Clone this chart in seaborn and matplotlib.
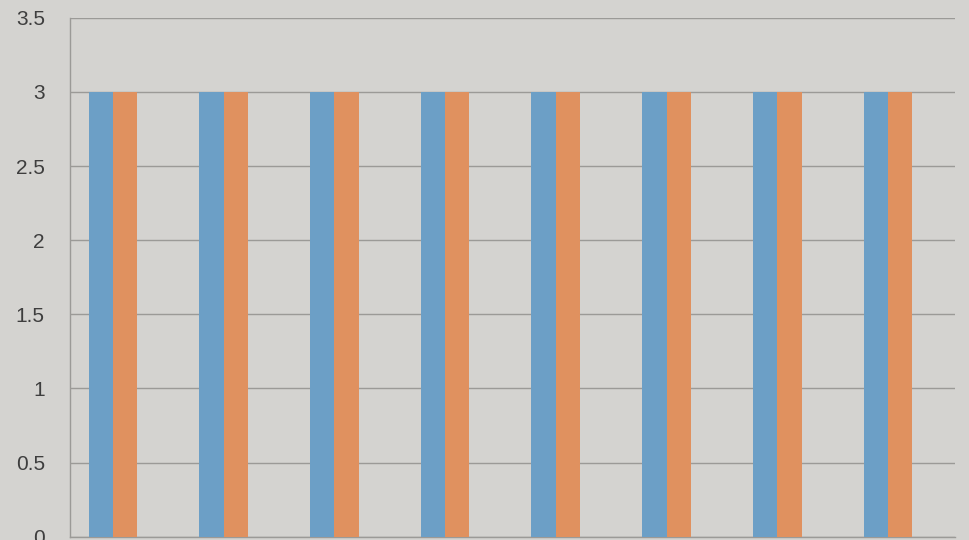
import pandas as pd
import matplotlib
matplotlib.use('Agg')
import matplotlib.pyplot as plt
import seaborn as sns

# values (8 groups; two visible series at ~3,
# plus an empty third series that leaves the gap on the right of each group)
categories = ['1', '2', '3', '4', '5', '6', '7', '8']
series_a = [3, 3, 3, 3, 3, 3, 3, 3]
series_b = [3, 3, 3, 3, 3, 3, 3, 3]
series_c = [0, 0, 0, 0, 0, 0, 0, 0]
yticks = [0, 0.5, 1, 1.5, 2, 2.5, 3, 3.5]
ytick_labels = ['0', '0.5', '1', '1.5', '2', '2.5', '3', '3.5']

df = pd.DataFrame({
    'category': categories * 3,
    'value': series_a + series_b + series_c,
    'series': ['A'] * 8 + ['B'] * 8 + ['C'] * 8,
})

bg = '#d4d3d0'
grid_col = '#9b9a97'
sns.set_theme(style='white')
plt.rcParams['font.family'] = ['Liberation Sans', 'DejaVu Sans']

fig = plt.figure(figsize=(9.7, 5.4), dpi=100, facecolor=bg)
ax = fig.add_axes([0.072, 0.006, 0.913, 0.961])
ax.set_facecolor(bg)

sns.barplot(data=df, x='category', y='value', hue='series',
            hue_order=['A', 'B', 'C'],
            palette=['#6c9fc6', '#e0915f', '#a5a5a5'], width=0.66, gap=0,
            saturation=1, linewidth=0, legend=False, ax=ax, zorder=3)

ax.set_ylim(0, 3.5)
ax.set_xlim(-0.5, len(categories) - 0.5)
ax.set_yticks(yticks)
ax.set_yticklabels(ytick_labels)
ax.yaxis.grid(True, color=grid_col, linewidth=1)
ax.set_axisbelow(True)

# category boundary ticks like the Excel chart
ax.set_xticks([i - 0.5 for i in range(len(categories) + 1)])
ax.set_xticklabels([])
ax.tick_params(axis='x', length=8, color=grid_col, width=1, direction='out')
ax.tick_params(axis='y', length=0, labelsize=15, labelcolor='#3e3e3e', pad=18)

for s in ['top', 'right']:
    ax.spines[s].set_visible(False)
for s in ['left', 'bottom']:
    ax.spines[s].set_color(grid_col)
    ax.spines[s].set_linewidth(1)

ax.set_xlabel('')
ax.set_ylabel('')

fig.savefig('out.png', dpi=100, facecolor=bg)
